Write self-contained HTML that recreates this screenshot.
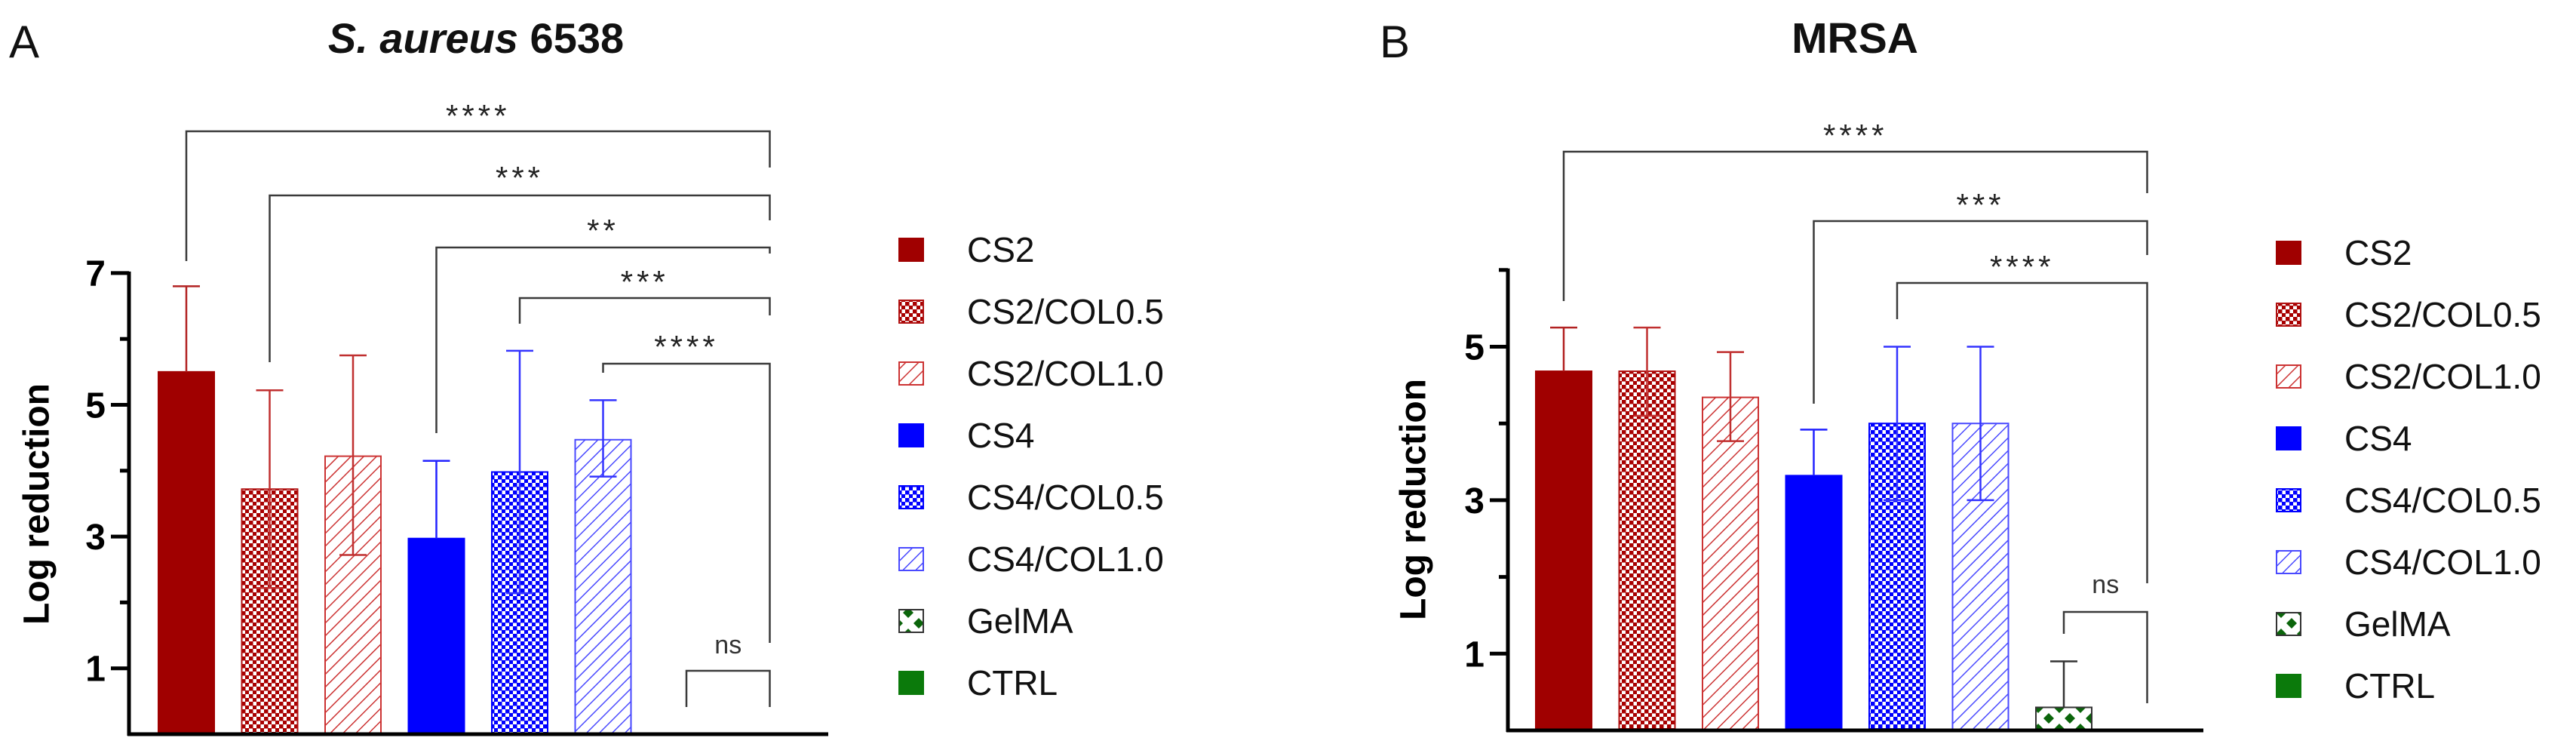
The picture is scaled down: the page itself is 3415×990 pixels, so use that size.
<!DOCTYPE html>
<html><head><meta charset="utf-8">
<style>
html,body{margin:0;padding:0;background:#fff;}
svg{display:block;font-family:"Liberation Sans",sans-serif;}
</style></head>
<body>
<svg id="fig" width="3415" height="990" viewBox="0 0 3415 990" xmlns="http://www.w3.org/2000/svg">
<defs>
 <pattern id="chkRed" width="10" height="10" patternUnits="userSpaceOnUse">
  <rect width="10" height="10" fill="#fff"/>
  <rect x="0" y="0" width="5.5" height="5.5" fill="#a80000"/>
  <rect x="5" y="5" width="5.5" height="5.5" fill="#a80000"/>
 </pattern>
 <pattern id="chkBlue" width="10" height="10" patternUnits="userSpaceOnUse">
  <rect width="10" height="10" fill="#fff"/>
  <rect x="0" y="0" width="5.5" height="5.5" fill="#0000ff"/>
  <rect x="5" y="5" width="5.5" height="5.5" fill="#0000ff"/>
 </pattern>
 <pattern id="hatRed" width="12" height="12" patternUnits="userSpaceOnUse" patternTransform="rotate(45)">
  <rect width="12" height="12" fill="#fff"/>
  <line x1="0" y1="0" x2="0" y2="12" stroke="#cc3333" stroke-width="3"/>
 </pattern>
 <pattern id="hatBlue" width="12" height="12" patternUnits="userSpaceOnUse" patternTransform="rotate(45)">
  <rect width="12" height="12" fill="#fff"/>
  <line x1="0" y1="0" x2="0" y2="12" stroke="#4a4aff" stroke-width="3"/>
 </pattern>
 <pattern id="gel" width="28" height="28" patternUnits="userSpaceOnUse">
  <rect width="28" height="28" fill="#fff"/>
  <path d="M0,-7 L7,0 L0,7 L-7,0Z M28,-7 L35,0 L28,7 L21,0Z M0,21 L7,28 L0,35 L-7,28Z M28,21 L35,28 L28,35 L21,28Z M14,7 L21,14 L14,21 L7,14Z" fill="#0b650b"/>
 </pattern>
</defs>
<g id="layer"></g>
</svg>
<script>
// ---------- data ----------
const categories = ["CS2","CS2/COL0.5","CS2/COL1.0","CS4","CS4/COL0.5","CS4/COL1.0","GelMA","CTRL"];
const valuesA = [5.5, 3.72, 4.22, 2.97, 3.98, 4.47, 0, 0];
const errHiA  = [6.8, 5.22, 5.75, 4.15, 5.82, 5.07, null, null];
const errLoA  = [null, 2.22, 2.72, null, 2.14, 3.91, null, null];
const valuesB = [4.68, 4.68, 4.34, 3.32, 4.0, 4.0, 0.3, 0];
const errHiB  = [5.25, 5.25, 4.93, 3.92, 5.0, 5.0, 0.9, null];
const errLoB  = [null, 4.1, 3.77, null, 3.0, 3.0, null, null];
const majorTicksA = [1,3,5,7];
const minorTicksA = [2,4,6];
const majorTicksB = [1,3,5];
const minorTicksB = [2,4,6];
// brackets: [fromIndex, label]
const bracketsA = [[0,"****"],[1,"***"],[3,"**"],[4,"***"],[5,"****"],[6,"ns"]];
const bracketsB = [[0,"****"],[3,"***"],[4,"****"],[6,"ns"]];

const NS="http://www.w3.org/2000/svg";
const layer=document.getElementById('layer');
function mk(tag,attrs,parent){const e=document.createElementNS(NS,tag);for(const k in attrs)e.setAttribute(k,attrs[k]);(parent||layer).appendChild(e);return e;}

const fills=["#a00000","url(#chkRed)","url(#hatRed)","#0000ff","url(#chkBlue)","url(#hatBlue)","url(#gel)","#0b7a0b"];
const strokes=["#a00000","#b01010","#cc3333","#0000ff","#0000ff","#4a4aff","#333333","#0b7a0b"];
const errCols=["#b22222","#c03030","#c03030","#2222ff","#3333ff","#3333ff","#333333","#333"];

function panel(cfg){
  const g=mk('g',{});
  
  
  const y=v=>cfg.zeroY-cfg.unit*v;
  const x=i=>cfg.axisX+cfg.off+cfg.step*i;
  const bw=74;
  // bars
  cfg.values.forEach((v,i)=>{
    if(v<=0) return;
    const r=mk('rect',{x:x(i)-bw/2,y:y(v),width:bw,height:cfg.zeroY-y(v),fill:fills[i],stroke:strokes[i],'stroke-width':2},g);
    
    
  });
  // error bars
  cfg.values.forEach((v,i)=>{
    const hi=cfg.hi[i], lo=cfg.lo[i];
    if(hi==null) return;
    const eg=mk('g',{stroke:errCols[i],'stroke-width':2.5,fill:'none'},g);
    
    
    const bot = lo==null? v : lo;
    mk('line',{x1:x(i),x2:x(i),y1:y(hi),y2:y(bot)},eg);
    mk('line',{x1:x(i)-18,x2:x(i)+18,y1:y(hi),y2:y(hi)},eg);
    if(lo!=null) mk('line',{x1:x(i)-18,x2:x(i)+18,y1:y(lo),y2:y(lo)},eg);
  });
  // axes
  const ax=mk('g',{stroke:'#000','stroke-width':5,fill:'none'},g);
  
  
  mk('line',{x1:cfg.axisX,x2:cfg.axisX,y1:y(cfg.top)-2,y2:cfg.zeroY+2},ax);
  mk('line',{x1:cfg.axisX-2,x2:cfg.xEnd,y1:cfg.zeroY,y2:cfg.zeroY},ax);
  cfg.major.forEach(t=>{
    mk('line',{x1:cfg.axisX-24,x2:cfg.axisX,y1:y(t),y2:y(t)},ax);
    const tx=mk('text',{x:cfg.axisX-31,y:y(t)+17,'text-anchor':'end','font-size':48,'font-weight':'bold',fill:'#000',stroke:'none'},g);
    tx.textContent=t;
    
    
  });
  cfg.minor.forEach(t=>{ mk('line',{x1:cfg.axisX-12,x2:cfg.axisX,y1:y(t),y2:y(t)},ax); });
  // y title
  const yt=mk('text',{x:cfg.ylabX,y:cfg.ylabY,'text-anchor':'middle','font-size':48,'font-weight':'bold',fill:'#000',transform:`rotate(-90 ${cfg.ylabX} ${cfg.ylabY})`,'dominant-baseline':'middle'},g);
  yt.textContent='Log reduction';
  
  
  // brackets
  const right=x(7);
  cfg.brackets.forEach((b,k)=>{
    const geo=cfg.bgeo[k];
    const bg=mk('g',{stroke:'#3a3a3a','stroke-width':2.5,fill:'none'},g);
    
    
    const lx=x(b[0]);
    mk('polyline',{points:`${lx},${geo[1]} ${lx},${geo[0]} ${right},${geo[0]} ${right},${geo[2]}`},bg);
    const mid=(lx+right)/2;
    let t;
    if(b[1]==='ns'){
      t=mk('text',{x:mid,y:geo[3]+11,'text-anchor':'middle','font-size':34,fill:'#333'},g);
    } else {
      t=mk('text',{x:mid,y:geo[3]+27,'text-anchor':'middle','font-size':42,fill:'#222','letter-spacing':5},g);
    }
    t.textContent=b[1];
    
    
  });
  // legend
  const lg=mk('g',{},g);
  
  
  categories.forEach((c,i)=>{
    const cy=cfg.legY+82*i;
    const e=mk('g',{},lg);
    
    
    mk('rect',{x:cfg.legX,y:cy-15,width:32,height:30,fill:fills[i],stroke:strokes[i],'stroke-width':2},e);
    const t=mk('text',{x:cfg.legX+90,y:cy+16,'font-size':46,fill:'#111'},e);
    t.textContent=c;
  });
}

panel({name:'panel-a-chart',axisX:171,off:76,step:110.5,zeroY:973,unit:87.3,top:7,xEnd:1098,
  values:valuesA,hi:errHiA,lo:errLoA,major:majorTicksA,minor:minorTicksA,
  ylabX:52,ylabY:668,brackets:bracketsA,
  bgeo:[[174,346,222,141],[259,480,292,223],[328,574,336,293],[395,429,418,361],[482,494,852,447],[889,937,937,855]],
  legX:1192,legY:331});
panel({name:'panel-b-chart',axisX:1999,off:74,step:110.5,zeroY:968,unit:101.7,top:6,xEnd:2921,
  values:valuesB,hi:errHiB,lo:errLoB,major:majorTicksB,minor:minorTicksB,
  ylabX:1877,ylabY:662,brackets:bracketsB,
  bgeo:[[201,399,256,167],[293,535,338,259],[375,423,773,341],[811,840,932,775]],
  legX:3018,legY:335});

// titles & panel letters
function txt(s,attrs,name){const t=mk('text',attrs);t.textContent=s;return t;}
txt('A',{x:12,y:76,'font-size':60,fill:'#111'},'panel-a-label');
txt('B',{x:1829,y:76,'font-size':60,fill:'#111'},'panel-b-label');
const ta=mk('text',{x:631,y:70,'text-anchor':'middle','font-size':56,'font-weight':'bold',fill:'#111'});


const ts1=mk('tspan',{'font-style':'italic'},ta); ts1.textContent='S. aureus';
const ts2=mk('tspan',{},ta); ts2.textContent=' 6538';
txt('MRSA',{x:2459,y:70,'text-anchor':'middle','font-size':57,'font-weight':'bold',fill:'#111'},'panel-b-title');
</script>
</body></html>
